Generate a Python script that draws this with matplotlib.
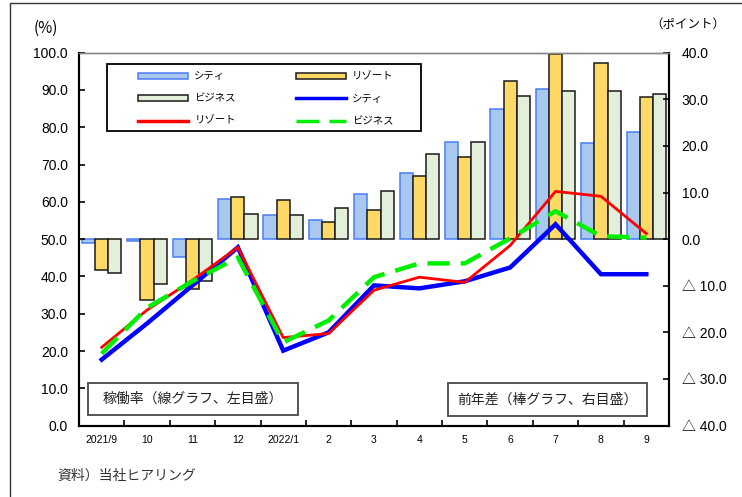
import numpy as np
import matplotlib
matplotlib.use('Agg')
import matplotlib.pyplot as plt
from matplotlib.patches import Rectangle, Patch
from matplotlib.lines import Line2D

plt.rcParams['font.family'] = ['Liberation Sans', 'Noto Sans CJK JP', 'DejaVu Sans']
JP = ['Noto Sans CJK JP', 'DejaVu Sans']

months = ['2021/9', '10', '11', '12', '2022/1', '2', '3', '4', '5', '6', '7', '8', '9']

# 稼働率 (%) - lines, left axis
city_rate = [17.7, 27.4, 37.6, 47.8, 20.1, 25.0, 37.6, 36.8, 38.7, 42.4, 54.0, 40.6, 40.6]
resort_rate = [21.0, 31.0, 39.0, 47.8, 23.6, 24.7, 36.3, 39.8, 38.4, 48.3, 62.8, 61.5, 51.5]
business_rate = [19.3, 31.6, 38.7, 45.1, 22.3, 28.2, 39.8, 43.5, 43.5, 50.2, 57.5, 50.8, 50.4]

# 前年差 (ポイント) - bars, right axis
city_diff = [-0.9, -0.35, -3.8, 8.7, 5.2, 4.2, 9.7, 14.2, 20.8, 28.0, 32.2, 20.6, 22.9]
resort_diff = [-6.7, -13.1, -10.6, 9.0, 8.3, 3.6, 6.2, 13.5, 17.6, 34.0, 39.8, 37.8, 30.5]
business_diff = [-7.3, -9.6, -9.0, 5.5, 5.2, 6.7, 10.3, 18.3, 20.8, 30.8, 31.8, 31.8, 31.2]

c_city_fill, c_city_edge = '#A8C8F0', '#4A7DF5'
c_resort_fill = '#FFD966'
c_bus_fill = '#E2EFDA'

fig = plt.figure(figsize=(7.42, 4.97), dpi=100)
ax = fig.add_axes([79 / 742, 1 - 425.6 / 497, 590 / 742, 372.9 / 497])
ax2 = ax.twinx()
ax.set_zorder(ax2.get_zorder() + 1)
ax.patch.set_visible(False)

x = np.arange(len(months))
w = 0.29
ax2.bar(x - w, city_diff, w, color=c_city_fill, edgecolor=c_city_edge, linewidth=1.1)
ax2.bar(x, resort_diff, w, color=c_resort_fill, edgecolor='#1a1a1a', linewidth=1.1)
ax2.bar(x + w, business_diff, w, color=c_bus_fill, edgecolor='#1a1a1a', linewidth=1.1)

ax.plot(x, city_rate, color='#0000FF', lw=3.2, solid_joinstyle='miter')
ax.plot(x, resort_rate, color='#FF0000', lw=2.0)
ax.plot(x, business_rate, color='#00EE00', lw=3.2, linestyle=(0, (5, 2.5)))

ax.set_xlim(-0.5, len(months) - 0.5)
ax.set_ylim(0, 100)
ax2.set_ylim(-40, 40)

ax.set_yticks(np.arange(0, 101, 10))
ax.set_yticklabels([f'{v:.1f}' for v in np.arange(0, 101, 10)], fontsize=10)
rticks = np.arange(-40, 41, 10)
ax2.set_yticks(rticks)
ax2.set_yticklabels([f'{v:.1f}' if v >= 0 else f'\u25b3 {-v:.1f}' for v in rticks], fontsize=10)

ax.set_xticks(x)
ax.set_xticklabels(months, fontsize=7.5)
ax.set_xticks(np.arange(0.5, len(months) - 0.5, 1), minor=True)
ax.tick_params(axis='x', which='major', length=0, pad=7)
ax.tick_params(axis='x', which='minor', direction='in', length=4, width=1.2)
ax.tick_params(axis='y', direction='in', length=4, width=1.2, pad=8)
ax2.tick_params(axis='y', direction='in', length=4, width=1.2, pad=9)

for a in (ax, ax2):
    for s in ('left', 'bottom', 'right'):
        a.spines[s].set_linewidth(1.5)
        a.spines[s].set_color('black')
    a.spines['top'].set_color('#888888')
    a.spines['top'].set_linewidth(1.0)

# legend frame and entries
ax.add_patch(Rectangle((0.0475, 0.79), 0.5325, 0.18, transform=ax.transAxes,
                       fill=True, facecolor='white', edgecolor='black', lw=1.3, zorder=5))
h_city_bar = Patch(facecolor=c_city_fill, edgecolor=c_city_edge, lw=1.1)
h_resort_bar = Patch(facecolor=c_resort_fill, edgecolor='#1a1a1a', lw=1.1)
h_bus_bar = Patch(facecolor=c_bus_fill, edgecolor='#1a1a1a', lw=1.1)
h_city_line = Line2D([], [], color='#0000FF', lw=2.5)
h_resort_line = Line2D([], [], color='#FF0000', lw=2.5)
h_bus_line = Line2D([], [], color='#00EE00', lw=2.5, linestyle=(0, (6.5, 3)))
leg = ax.legend([h_city_bar, h_bus_bar, h_resort_line, h_resort_bar, h_city_line, h_bus_line],
                ['シティ', 'ビジネス', 'リゾート', 'リゾート', 'シティ', 'ビジネス'],
                ncol=2, loc='upper left', bbox_to_anchor=(0.1, 0.95), frameon=False,
                borderpad=0, borderaxespad=0, handlelength=4.8, handleheight=0.55,
                handletextpad=0.6, columnspacing=5.75, labelspacing=1.18,
                prop={'family': JP, 'size': 7.5})
leg.set_zorder(6)

# annotation boxes
ax.add_patch(Rectangle((0.015, 0.028), 0.356, 0.086, transform=ax.transAxes,
                       facecolor='white', edgecolor='#555555', lw=1.4, zorder=5))
ax.text(0.193, 0.071, '稼働率（線グラフ、左目盛）', transform=ax.transAxes, ha='center',
        va='center', fontsize=10, family=JP, color='#222222', zorder=6)
ax.add_patch(Rectangle((0.625, 0.025), 0.338, 0.089, transform=ax.transAxes,
                       facecolor='white', edgecolor='#555555', lw=1.4, zorder=5))
ax.text(0.794, 0.07, '前年差（棒グラフ、右目盛）', transform=ax.transAxes, ha='center',
        va='center', fontsize=10, family=JP, color='#222222', zorder=6)

fig.text(46 / 742, 1 - 28 / 497, '(%)', ha='center', va='center', fontsize=11, family=JP)
fig.text(688 / 742, 1 - 24 / 497, '（ポイント）', ha='center', va='center', fontsize=9, family=JP)
fig.text(57 / 742, 1 - 476 / 497, '資料）当社ヒアリング', ha='left', va='center', fontsize=10,
         family=JP, color='#333333')

# outer frame
fig.add_artist(Rectangle((10 / 742, -0.1), 1.0, 1.1 - 3 / 497, transform=fig.transFigure,
                         fill=False, edgecolor='#333333', lw=1.0))

fig.savefig('out.png', dpi=100)
